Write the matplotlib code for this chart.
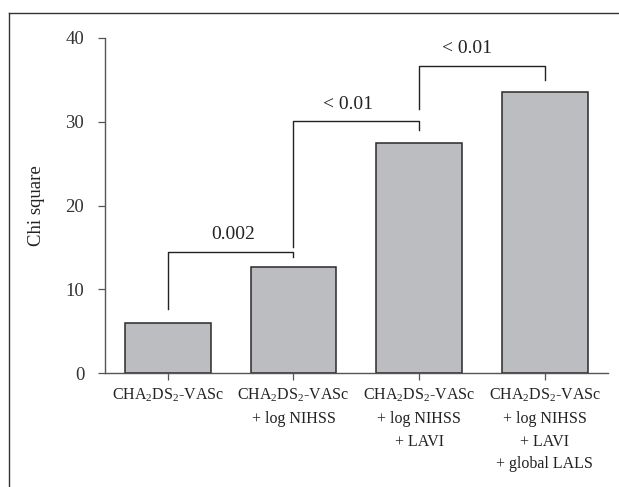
import matplotlib
matplotlib.use("Agg")
import matplotlib.pyplot as plt
from matplotlib.lines import Line2D

plt.rcParams['font.family'] = ['Liberation Serif', 'DejaVu Serif']
plt.rcParams['mathtext.fontset'] = 'custom'
plt.rcParams['mathtext.rm'] = 'Liberation Serif'
plt.rcParams['mathtext.it'] = 'Liberation Serif'

categories = [
    r"CHA$_2$DS$_2$-VASc",
    "CHA$_2$DS$_2$-VASc\n+ log NIHSS",
    "CHA$_2$DS$_2$-VASc\n+ log NIHSS\n+ LAVI",
    "CHA$_2$DS$_2$-VASc\n+ log NIHSS\n+ LAVI\n+ global LALS",
]
chi_square = [6.0, 12.6, 27.5, 33.6]
yticks = [0, 10, 20, 30, 40]

# comparison brackets
bracket_left = [0, 1, 2]
bracket_right = [1, 2, 3]
bracket_left_low = [7.7, 15.1, 31.5]
bracket_top = [14.5, 30.1, 36.7]
bracket_right_low = [13.8, 29.0, 35.0]
bracket_labels = ["0.002", "< 0.01", "< 0.01"]

fig = plt.figure(figsize=(6.19, 4.87), dpi=100)
ax = fig.add_axes([0.1696, 0.234, 0.812, 0.688])

x = list(range(len(categories)))
ax.bar(x, chi_square, width=0.68, color='#bcbdc1', edgecolor='#2a2a2a', linewidth=1.1, zorder=2)

ax.set_xlim(-0.5, 3.5)
ax.set_ylim(0, 40)
ax.set_yticks(yticks)
ax.set_xticks(x)
ax.set_xticklabels(categories, fontsize=11.5, color='#222222', linespacing=1.55)
ax.tick_params(axis='y', labelsize=13.5, colors='#555555', labelcolor='#333333', direction='out', length=5, width=0.9, pad=10)
ax.tick_params(axis='x', direction='out', length=5, width=0.9, colors='#555555', labelcolor='#222222', pad=5)
for s in ['top', 'right']:
    ax.spines[s].set_visible(False)
for s in ['left', 'bottom']:
    ax.spines[s].set_color('#555555')
    ax.spines[s].set_linewidth(1.0)
ax.set_ylabel("Chi square", fontsize=13.5, color='#222222', labelpad=15)

label_shift = [0.02, -0.07, -0.12]
for l, r, ll, t, rl, lab, sh in zip(bracket_left, bracket_right, bracket_left_low,
                                    bracket_top, bracket_right_low, bracket_labels, label_shift):
    ax.plot([l, l, r, r], [ll, t, t, rl], color='#222222', linewidth=1.0, zorder=3)
    ax.text((l + r) / 2 + sh, t + 1.0, lab, ha='center', va='bottom', fontsize=14, color='#222222')

# outer frame (only left and top visible in the reference crop)
fig.add_artist(Line2D([0.0145, 0.0145], [0.0, 0.974], transform=fig.transFigure, color='#333333', linewidth=1.0))
fig.add_artist(Line2D([0.0145, 1.0], [0.974, 0.974], transform=fig.transFigure, color='#333333', linewidth=1.0))

fig.savefig("out.png", dpi=100)
